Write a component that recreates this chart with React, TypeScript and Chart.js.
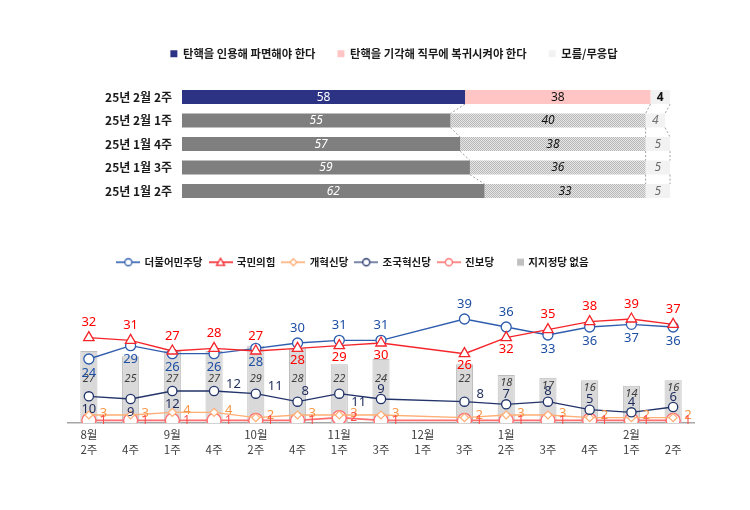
import React, { useEffect, useRef } from 'react';
import { Chart, registerables } from 'chart.js';

Chart.register(...registerables);

const KR = '"Noto Sans CJK KR", "Noto Sans", sans-serif';
const LAT = '"Noto Sans", "DejaVu Sans", sans-serif';

// ---------- top chart data ----------
const pollWeeks = ['25년 2월 2주', '25년 2월 1주', '25년 1월 4주', '25년 1월 3주', '25년 1월 2주'];
const impeachYes = [58, 55, 57, 59, 62];
const impeachNo = [38, 40, 38, 36, 33];
const impeachDk = [4, 4, 5, 5, 5];
const topSeriesNames = ['탄핵을 인용해 파면해야 한다', '탄핵을 기각해 직무에 복귀시켜야 한다', '모름/무응답'];

// ---------- bottom chart data ----------
const weekLabels = [
  ['8월', '2주'], ['', '4주'], ['9월', '1주'], ['', '4주'], ['10월', '2주'], ['', '4주'],
  ['11월', '1주'], ['', '3주'], ['12월', '1주'], ['', '3주'], ['1월', '2주'], ['', '3주'],
  ['', '4주'], ['2월', '1주'], ['', '2주'],
];
const partyNames = ['더불어민주당', '국민의힘', '개혁신당', '조국혁신당', '진보당', '지지정당 없음'];
const minjoo = [24, 29, 26, 26, 28, 30, 31, 31, null, 39, 36, 33, 36, 37, 36];
const ppp = [32, 31, 27, 28, 27, 28, 29, 30, null, 26, 32, 35, 38, 39, 37];
const reform = [3, 3, 4, 4, 2, 3, 3, 3, null, 2, 3, 3, 2, 2, 2];
const rebuild = [10, 9, 12, 12, 11, 8, 11, 9, null, 8, 7, 8, 5, 4, 6];
const progressive = [1, 1, 1, 1, 1, 1, 2, 1, null, 1, 1, 1, 1, 1, 1];
const noParty = [27, 25, 27, 27, 29, 28, 22, 24, null, 22, 18, 17, 16, 14, 16];

// label placement hints (style, not data)
const minjooPos = ['below', 'below', 'below', 'below', 'below', 'above', 'above', 'above', null, 'above', 'above', 'below', 'below', 'below', 'below'];
const pppPos = ['above', 'above', 'above', 'above', 'above', 'below', 'below', 'below', null, 'below', 'below', 'above', 'above', 'above', 'above'];
const rebuildPos = ['below', 'below', 'below', 'right', 'right', 'aboveRight', 'rightBelow', 'above', null, 'right', 'above', 'above', 'above', 'above', 'above'];

const C_NAVY_BAR = '#2C3385';
const C_PINK_BAR = '#FFC5C5';
const C_DK = '#F2F2F2';
const C_GRAY_BAR = '#7F7F7F';

const C_BLUE = '#2F5DAE';
const C_BLUE_TXT = '#1E4FA3';
const C_RED = '#F5262B';
const C_RED_TXT = '#FF0000';
const C_ORANGE = '#FFAE75';
const C_ORANGE_TXT = '#F79646';
const C_NAVY = '#22346A';
const C_NAVY_TXT = '#1D2B5C';
const C_PROG = '#FF6F6F';
const C_PROG_TXT = '#FF4B4B';

// right end of the 100% bar sits at 670px inside a 750px canvas whose plot starts at 182px
const TOP_X_MAX = (100 * (750 - 182)) / (670 - 182);

function legendGap(gap: number) {
  return {
    id: 'legendGap',
    beforeInit(chart: any) {
      const lg = chart.legend;
      if (!lg) return;
      const fit = lg.fit;
      lg.fit = function () {
        fit.call(this);
        this.height += gap;
      };
    },
  };
}

function makePattern(): CanvasPattern | string {
  const pc = document.createElement('canvas');
  pc.width = 2;
  pc.height = 2;
  const p = pc.getContext('2d');
  if (!p) return '#D2D2D2';
  p.fillStyle = '#E6E6E6';
  p.fillRect(0, 0, 2, 2);
  p.fillStyle = '#B8B8B8';
  p.fillRect(0, 0, 1, 1);
  p.fillRect(1, 1, 1, 1);
  const pat = p.createPattern(pc, 'repeat');
  return pat || '#D2D2D2';
}

function makeIcon(color: string, shape: string, r: number, lineColor?: string): HTMLCanvasElement {
  const c = document.createElement('canvas');
  c.width = 24;
  c.height = 14;
  const x = c.getContext('2d') as CanvasRenderingContext2D;
  const cx = 12;
  const cy = 7;
  if (shape === 'square') {
    x.fillStyle = color;
    x.fillRect(17, 3.5, 7, 7);
    return c;
  }
  x.strokeStyle = lineColor || color;
  x.lineWidth = 1.6;
  x.beginPath();
  x.moveTo(0, cy);
  x.lineTo(24, cy);
  x.stroke();
  x.fillStyle = '#fff';
  x.strokeStyle = color;
  x.lineWidth = 1.3;
  x.beginPath();
  if (shape === 'circle') {
    x.arc(cx, cy, r, 0, Math.PI * 2);
  } else if (shape === 'triangle') {
    x.moveTo(cx, cy - r);
    x.lineTo(cx + r, cy + r * 0.8);
    x.lineTo(cx - r, cy + r * 0.8);
    x.closePath();
  } else if (shape === 'diamond') {
    x.moveTo(cx, cy - r);
    x.lineTo(cx + r, cy);
    x.lineTo(cx, cy + r);
    x.lineTo(cx - r, cy);
    x.closePath();
  }
  x.fill();
  x.stroke();
  return c;
}

const topLabelsPlugin = {
  id: 'topLabels',
  afterDatasetsDraw(chart: any) {
    const ctx: CanvasRenderingContext2D = chart.ctx;
    const metas = [0, 1, 2].map((i) => chart.getDatasetMeta(i));
    ctx.save();
    ctx.strokeStyle = '#A0A0A0';
    ctx.lineWidth = 1;
    ctx.setLineDash([2, 2]);
    metas.forEach((m: any) => {
      for (let r = 0; r < m.data.length - 1; r++) {
        const a = m.data[r];
        const b = m.data[r + 1];
        ctx.beginPath();
        ctx.moveTo(a.x, a.y + a.height / 2);
        ctx.lineTo(b.x, b.y - b.height / 2);
        ctx.stroke();
      }
    });
    ctx.setLineDash([]);
    const sets = [impeachYes, impeachNo, impeachDk];
    ctx.textAlign = 'center';
    ctx.textBaseline = 'middle';
    metas.forEach((m: any, di: number) => {
      m.data.forEach((el: any, r: number) => {
        const v = sets[di][r];
        const cx = (el.x + el.base) / 2;
        let color = '#111';
        if (di === 0) color = '#fff';
        if (di === 2 && r > 0) color = '#707070';
        const style = r === 0 ? '' : 'italic ';
        const weight = r === 0 && di === 2 ? 'bold ' : '';
        ctx.font = `${style}${weight}12px ${LAT}`;
        ctx.fillStyle = color;
        ctx.fillText(String(v), cx, el.y + 0.5);
      });
    });
    ctx.restore();
  },
};

const bottomLabelsPlugin = {
  id: 'bottomLabels',
  afterDatasetsDraw(chart: any) {
    const ctx: CanvasRenderingContext2D = chart.ctx;
    const ys = chart.scales.y;
    ctx.save();
    ctx.textBaseline = 'middle';
    const put = (t: string, x: number, y: number, color: string, font: string, align: CanvasTextAlign = 'center') => {
      ctx.font = font;
      ctx.fillStyle = color;
      ctx.textAlign = align;
      ctx.fillText(t, x, y);
    };
    const barMeta = chart.getDatasetMeta(5);
    barMeta.data.forEach((el: any, i: number) => {
      const v = noParty[i];
      if (v == null) return;
      const ty = Math.max(el.y + 8, ys.getPixelForValue(16.5));
      put(String(v), el.x, ty, '#404040', `italic 11px ${LAT}`);
    });
    const bigFont = `13px ${LAT}`;
    chart.getDatasetMeta(0).data.forEach((el: any, i: number) => {
      const v = minjoo[i];
      if (v == null) return;
      const dy = minjooPos[i] === 'above' ? -15 : 14;
      put(String(v), el.x, el.y + dy, C_BLUE_TXT, bigFont);
    });
    chart.getDatasetMeta(1).data.forEach((el: any, i: number) => {
      const v = ppp[i];
      if (v == null) return;
      const dy = pppPos[i] === 'above' ? -15 : 12;
      put(String(v), el.x, el.y + dy, C_RED_TXT, bigFont);
    });
    chart.getDatasetMeta(2).data.forEach((el: any, i: number) => {
      const v = reform[i];
      if (v == null) return;
      put(String(v), el.x + 11, el.y - 2, C_ORANGE_TXT, `13px ${LAT}`, 'left');
    });
    chart.getDatasetMeta(3).data.forEach((el: any, i: number) => {
      const v = rebuild[i];
      if (v == null) return;
      const p = rebuildPos[i];
      let dx = 0;
      let dy = 0;
      let align: CanvasTextAlign = 'center';
      if (p === 'below') dy = 13;
      else if (p === 'above') dy = -10;
      else if (p === 'right') { dx = 12; dy = -7; align = 'left'; }
      else if (p === 'aboveRight') { dx = 4; dy = -10; align = 'left'; }
      else if (p === 'rightBelow') { dx = 12; dy = 9; align = 'left'; }
      put(String(v), el.x + dx, el.y + dy, C_NAVY_TXT, bigFont, align);
    });
    chart.getDatasetMeta(4).data.forEach((el: any, i: number) => {
      const v = progressive[i];
      if (v == null) return;
      put(String(v), el.x + 11, el.y, C_PROG_TXT, `12px ${LAT}`, 'left');
    });
    ctx.restore();
  },
};

export default function App() {
  const topRef = useRef<HTMLCanvasElement>(null);
  const botRef = useRef<HTMLCanvasElement>(null);

  useEffect(() => {
    if (!topRef.current || !botRef.current) return;
    const pattern = makePattern();

    const top = new Chart(topRef.current, {
      type: 'bar',
      data: {
        labels: pollWeeks,
        datasets: [
          {
            label: topSeriesNames[0],
            data: impeachYes,
            backgroundColor: pollWeeks.map((_, i) => (i === 0 ? C_NAVY_BAR : C_GRAY_BAR)),
          },
          {
            label: topSeriesNames[1],
            data: impeachNo,
            backgroundColor: pollWeeks.map((_, i) => (i === 0 ? C_PINK_BAR : pattern)) as any,
          },
          {
            label: topSeriesNames[2],
            data: impeachDk,
            backgroundColor: pollWeeks.map(() => C_DK),
          },
        ],
      },
      options: {
        indexAxis: 'y',
        animation: false,
        responsive: false,
        layout: { padding: { left: 38, right: 0, top: 0, bottom: 7 } },
        datasets: { bar: { barPercentage: 0.6, categoryPercentage: 1 } },
        scales: {
          x: { stacked: true, min: 0, max: TOP_X_MAX, display: false },
          y: {
            stacked: true,
            grid: { display: false, drawTicks: false },
            border: { display: false },
            ticks: { padding: 10, color: '#1a1a1a', font: { family: KR, size: 12, weight: 'bold' } },
            afterFit: (s: any) => {
              s.width = 144;
            },
          },
        },
        plugins: {
          legend: {
            labels: {
              usePointStyle: true,
              pointStyle: 'rect',
              boxWidth: 7,
              boxHeight: 7,
              padding: 22,
              color: '#1a1a1a',
              font: { family: KR, size: 11.3, weight: 'bold' },
            },
          },
          tooltip: { enabled: false },
        },
      } as any,
      plugins: [legendGap(16), topLabelsPlugin],
    });

    const icons = [
      makeIcon(C_BLUE, 'circle', 3.5),
      makeIcon(C_RED, 'triangle', 4),
      makeIcon(C_ORANGE, 'diamond', 3.5),
      makeIcon(C_NAVY, 'circle', 3.5, '#5B6A95'),
      makeIcon(C_PROG, 'circle', 3.5),
      makeIcon('#BFBFBF', 'square', 0),
    ];

    const bot = new Chart(botRef.current, {
      type: 'bar',
      data: {
        labels: weekLabels,
        datasets: [
          {
            type: 'line',
            label: partyNames[0],
            data: minjoo,
            borderColor: C_BLUE,
            backgroundColor: '#fff',
            pointBackgroundColor: '#fff',
            pointBorderColor: C_BLUE,
            pointRadius: 5,
            pointBorderWidth: 1.3,
            borderWidth: 1.4,
            spanGaps: true,
            order: 2,
          },
          {
            type: 'line',
            label: partyNames[1],
            data: ppp,
            borderColor: C_RED,
            backgroundColor: '#fff',
            pointBackgroundColor: '#fff',
            pointBorderColor: C_RED,
            pointStyle: 'triangle',
            pointRadius: 6,
            pointBorderWidth: 1.3,
            borderWidth: 1.4,
            spanGaps: true,
            order: 1,
          },
          {
            type: 'line',
            label: partyNames[2],
            data: reform,
            borderColor: C_ORANGE,
            backgroundColor: '#fff',
            pointBackgroundColor: '#fff',
            pointBorderColor: C_ORANGE,
            pointStyle: 'rectRot',
            pointRadius: 4,
            pointBorderWidth: 1.2,
            borderWidth: 1.4,
            spanGaps: true,
            order: 4,
          },
          {
            type: 'line',
            label: partyNames[3],
            data: rebuild,
            borderColor: C_NAVY,
            backgroundColor: '#fff',
            pointBackgroundColor: '#fff',
            pointBorderColor: C_NAVY,
            pointRadius: 4.6,
            pointBorderWidth: 1.3,
            borderWidth: 1.3,
            spanGaps: true,
            order: 3,
          },
          {
            type: 'line',
            label: partyNames[4],
            data: progressive,
            borderColor: C_PROG,
            backgroundColor: '#fff',
            pointBackgroundColor: '#fff',
            pointBorderColor: C_PROG,
            pointRadius: 7,
            pointBorderWidth: 1.4,
            borderWidth: 1.6,
            spanGaps: true,
            order: 5,
          },
          {
            type: 'bar',
            label: partyNames[5],
            data: noParty,
            backgroundColor: '#D9D9D9',
            borderColor: '#BDBDBD',
            borderWidth: 1,
            barPercentage: 0.41,
            categoryPercentage: 1,
            order: 6,
          },
        ],
      },
      options: {
        animation: false,
        responsive: false,
        layout: { padding: { left: 12, right: 56, top: 0, bottom: 24 } },
        scales: {
          x: {
            grid: { display: false, drawTicks: false },
            border: { display: true, color: '#A6A6A6', width: 1.5 },
            ticks: { padding: 4, color: '#404040', font: { family: KR, size: 11.5, lineHeight: 1.3 }, autoSkip: false, maxRotation: 0 },
            afterFit: (s: any) => {
              s.height = 40;
            },
          },
          y: {
            min: 0,
            max: 45,
            grid: { display: false, drawTicks: false },
            border: { display: false },
            ticks: { display: false },
            afterFit: (s: any) => {
              s.width = 56;
            },
          },
        },
        plugins: {
          legend: {
            labels: {
              usePointStyle: true,
              pointStyleWidth: 22,
              boxHeight: 10,
              padding: 7,
              color: '#1a1a1a',
              font: { family: KR, size: 10.5, weight: 'bold' },
              sort: (a: any, b: any) => a.datasetIndex - b.datasetIndex,
              generateLabels: (chart: any) => {
                const items = (Chart.defaults.plugins.legend.labels as any).generateLabels(chart);
                return items.map((it: any) => ({ ...it, pointStyle: icons[it.datasetIndex] }));
              },
            },
          },
          tooltip: { enabled: false },
        },
      } as any,
      plugins: [legendGap(25.5), bottomLabelsPlugin],
    });

    return () => {
      top.destroy();
      bot.destroy();
    };
  }, []);

  return (
    <div style={{ position: 'absolute', left: 0, top: 0, width: 750, height: 510, background: '#fff' }}>
      <canvas ref={topRef} width={750} height={194} style={{ position: 'absolute', left: 0, top: 26, width: 750, height: 194 }} />
      <canvas ref={botRef} width={750} height={237} style={{ position: 'absolute', left: 0, top: 250, width: 750, height: 237 }} />
    </div>
  );
}
